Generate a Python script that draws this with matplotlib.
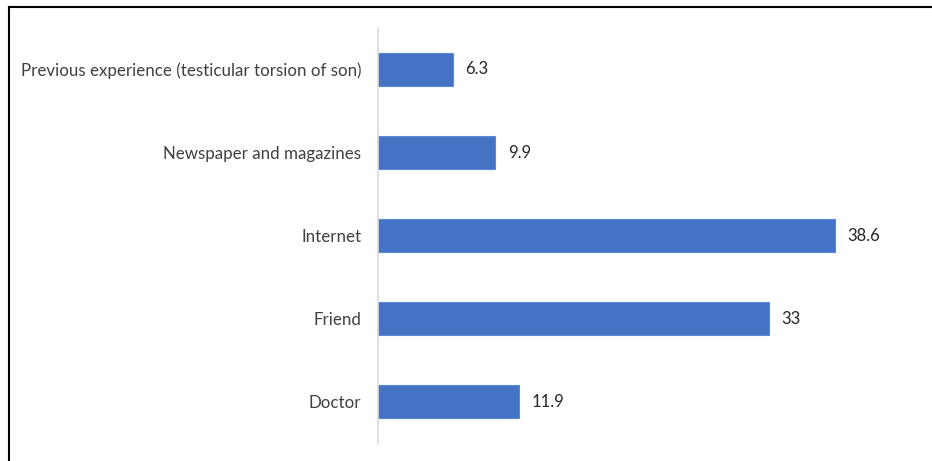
import matplotlib.pyplot as plt
from matplotlib.lines import Line2D

# Data (bottom to top)
sources = ['Doctor', 'Friend', 'Internet', 'Newspaper and magazines',
           'Previous experience (testicular torsion of son)']
values = [11.9, 33, 38.6, 9.9, 6.3]
value_labels = ['11.9', '33', '38.6', '9.9', '6.3']

plt.rcParams['font.family'] = ['Lato', 'DejaVu Sans']

fig = plt.figure(figsize=(9.32, 4.61), dpi=100)
ax = fig.add_axes([378 / 932, 1 - 443 / 461, (905 - 378) / 932, (443 - 28) / 461])

ypos = list(range(len(sources)))
ax.barh(ypos, values, height=0.39, color='#4472C4', edgecolor='#5a87d6', linewidth=0.8)

for y, v, lab in zip(ypos, values, value_labels):
    ax.annotate(lab, (v, y), xytext=(9, 0), textcoords='offset points',
                va='center', ha='left', fontsize=12, color='#262626')

ax.set_yticks(ypos)
ax.set_yticklabels(sources, fontsize=12.2, color='#404040')
ax.tick_params(axis='y', length=0, pad=12)
ax.set_xticks([])
ax.set_xlim(0, 44.5)
ax.set_ylim(-0.5, 4.5)

for s in ['top', 'right', 'bottom']:
    ax.spines[s].set_visible(False)
ax.spines['left'].set_color('#d9d9d9')
ax.spines['left'].set_linewidth(1.2)

# outer frame (top and left edges)
fig.add_artist(Line2D([9 / 932, 1], [1 - 7 / 461, 1 - 7 / 461], color='black', linewidth=1.5,
                      transform=fig.transFigure))
fig.add_artist(Line2D([9 / 932, 9 / 932], [0, 1 - 7 / 461], color='black', linewidth=1.5,
                      transform=fig.transFigure))

fig.savefig('out.png', dpi=100)
